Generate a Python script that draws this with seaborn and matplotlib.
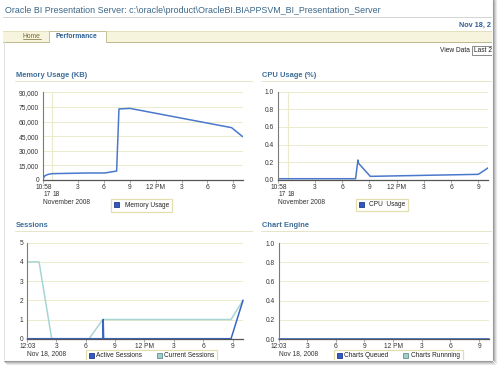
import numpy as np
import pandas as pd
import matplotlib
matplotlib.use('Agg')
import matplotlib.pyplot as plt
import seaborn as sns
from matplotlib.patches import Patch, Rectangle

# ---------------- data ----------------
mem_hours = [-1.03, -0.85, -0.46, 0.0, 3.99, 6.11, 7.47, 7.74, 9.01, 20.8, 22.08]
mem_kb = [1700, 4400, 5800, 6500, 7200, 7200, 9200, 72900, 73500, 53700, 44500]

cpu_hours = [-1.03, 7.48, 7.74, 7.81, 9.1, 21.0, 22.1]
cpu_pct = [0.011, 0.011, 0.224, 0.186, 0.038, 0.061, 0.136]

cur_hours = [0.05, 1.25, 2.54, 6.36, 7.76, 20.85, 22.07]
cur_sessions = [4, 4, 0, 0, 1, 1, 2]
act_hours = [0.05, 7.78, 7.80, 7.84, 20.85, 22.07]
act_sessions = [0, 0, 1, 0, 0, 2]

eng_hours = [0.05, 22.04]
charts_queued = [0, 0]
charts_running = [0, 0]

day_ticks = [-1.033, 3, 6, 9, 12, 15, 18, 21]
day_labels = ['10:58', '3', '6', '9', '12 PM', '3', '6', '9']
sess_ticks = [0.05, 3, 6, 9, 12, 15, 18, 21]
sess_labels = ['12:03', '3', '6', '9', '12 PM', '3', '6', '9']

mem_yticks = [0, 15000, 30000, 45000, 60000, 75000, 90000]
mem_ylabels = ['0', '15,000', '30,000', '45,000', '60,000', '75,000', '90,000']
frac_yticks = [0, 0.2, 0.4, 0.6, 0.8, 1.0]
frac_ylabels = ['0.0', '0.2', '0.4', '0.6', '0.8', '1.0']
sess_yticks = [0, 1, 2, 3, 4, 5]
sess_ylabels = ['0', '1', '2', '3', '4', '5']

# ---------------- style ----------------
sns.set_style('white')
plt.rcParams['font.family'] = ['Liberation Sans', 'DejaVu Sans']

W, H = 500, 368
BLUE = '#4a78cc'
BLUE2 = '#3a64c4'
TEAL = '#a6d6d2'
GRID = '#ebebcc'
TITLE = '#3d6d98'
LEG_EDGE = '#e2dfae'

fig = plt.figure(figsize=(5, 3.68), dpi=100)
fig.patch.set_facecolor('white')

# background / page decorations (pixel coordinates)
bg = fig.add_axes([0, 0, 1, 1])
bg.set_xlim(0, W)
bg.set_ylim(H, 0)
bg.axis('off')

bg.text(5, 10.5, r'Oracle BI Presentation Server: c:\oracle\product\OracleBI.BIAPPSVM_BI_Presentation_Server',
        fontsize=6.4, color='#3a6688', va='center', ha='left')
bg.plot([3, 492], [16.5, 16.5], color='#d4d4d4', lw=0.7)
bg.text(490.5, 25.5, 'Nov 18, 2', fontsize=5.2, color='#2f5f94', fontweight='bold', va='center', ha='right')

# tab bar
bg.add_patch(Rectangle((3, 31), 489, 10.5, facecolor='#f6f4dc', edgecolor='none'))
bg.plot([3, 492], [31, 31], color='#e0ddb8', lw=0.6)
bg.plot([3, 49], [41.5, 41.5], color='#bdb78c', lw=0.7)
bg.plot([106, 492], [41.5, 41.5], color='#bdb78c', lw=0.7)
bg.add_patch(Rectangle((49, 31), 57, 11, facecolor='white', edgecolor='none'))
bg.plot([49, 49, 106, 106], [41.5, 31, 31, 41.5], color='#c8c29a', lw=0.7)
bg.text(22.5, 36, 'Home', fontsize=4.9, color='#7a6c3a', va='center', ha='left')
bg.plot([22.5, 40.5], [39, 39], color='#7a6c3a', lw=0.5)
bg.text(55, 36, 'Performance', fontsize=4.9, color='#2f5f94', fontweight='bold', va='center', ha='left')

bg.text(439.5, 50, 'View Data', fontsize=4.8, color='#222222', va='center', ha='left')
bg.add_patch(Rectangle((472, 45.5), 22, 9, facecolor='white', edgecolor='#777777', lw=0.6))
bg.text(474, 50, 'Last 2', fontsize=4.8, color='#222222', va='center', ha='left')

# chart titles and underlines
for (x, y, txt) in [(16, 75.5, 'Memory Usage (KB)'), (262, 75.5, 'CPU Usage (%)'),
                    (16, 225.5, 'Sessions'), (262, 225.5, 'Chart Engine')]:
    bg.text(x, y, txt, fontsize=5.4, color=TITLE, fontweight='bold', va='center', ha='left')
bg.plot([15, 252], [80.5, 80.5], color='#e6e4c8', lw=0.7)
bg.plot([261, 491], [80.5, 80.5], color='#e6e4c8', lw=0.7)
bg.plot([15, 252], [230.5, 230.5], color='#e6e4c8', lw=0.7)
bg.plot([261, 491], [230.5, 230.5], color='#e6e4c8', lw=0.7)

# left page edge
bg.plot([3.5, 3.5], [42, 360], color='#dddddd', lw=0.6)


def make_axes(l, t, r, b):
    ax = fig.add_axes([l / W, 1 - b / H, (r - l) / W, (b - t) / H])
    ax.set_facecolor('none')
    return ax


def style_axes(ax, xlim, ylim, xt, xl, yt, yl):
    ax.set_xlim(xlim)
    ax.set_ylim(ylim)
    ax.set_xticks(xt)
    ax.set_xticklabels(xl)
    ax.set_yticks(yt)
    ax.set_yticklabels(yl)
    ax.set_xlabel('')
    ax.set_ylabel('')
    for s in ['top', 'right']:
        ax.spines[s].set_visible(False)
    ax.spines['left'].set_color('#7a7a7a')
    ax.spines['left'].set_linewidth(0.8)
    ax.spines['bottom'].set_color('#555555')
    ax.spines['bottom'].set_linewidth(0.9)
    ax.grid(axis='y', color=GRID, lw=0.7)
    ax.grid(axis='x', visible=False)
    ax.set_axisbelow(True)
    ax.tick_params(axis='x', bottom=True, length=2, width=0.5, color='#888888',
                   pad=1, labelsize=4.8, labelcolor='#333333')
    ax.tick_params(axis='y', left=False, length=0, pad=3, labelsize=4.8, labelcolor='#333333')


def add_legend(ax, labels, colors, edges, x, y, tpad, cspace):
    handles = [Patch(facecolor=c, edgecolor=e, lw=0.6) for c, e in zip(colors, edges)]
    leg = ax.legend(handles, labels, loc='upper left', bbox_to_anchor=(x / W, 1 - y / H),
                    bbox_transform=fig.transFigure, ncol=len(labels), frameon=True,
                    fancybox=False, edgecolor=LEG_EDGE, facecolor='white', framealpha=1,
                    fontsize=4.7, handlelength=0.8, handleheight=0.8, handletextpad=tpad,
                    columnspacing=cspace, borderpad=0.45, borderaxespad=0)
    leg.get_frame().set_linewidth(0.9)
    for t in leg.get_texts():
        t.set_color('#222222')


def under(ax, x, dy, txt):
    ax.annotate(txt, xy=(x, 0), xycoords=('data', 'axes fraction'), xytext=(0, dy),
                textcoords='offset pixels', ha='left', va='center', fontsize=4.8, color='#333333')


# ---------------- Memory ----------------
ax1 = make_axes(43.3, 92.3, 242.8, 180)
mem_df = pd.DataFrame({'hour': mem_hours, 'kb': mem_kb})
sns.lineplot(data=mem_df, x='hour', y='kb', ax=ax1, color=BLUE, lw=1.1,
             estimator=None, sort=False, legend=False)
ax1.axvline(0, color=GRID, lw=0.8, zorder=0)
style_axes(ax1, (-1.033, 22.1), (0, 90000), day_ticks, day_labels, mem_yticks, mem_ylabels)
under(ax1, -1.033, -15, '17')
under(ax1, 0, -15, '18')
under(ax1, -1.033, -23, 'November 2008')
add_legend(ax1, ['Memory Usage'], ['#3458c0'], ['#1e3a8a'], 111, 199, 0.9, 1.0)

# ---------------- CPU ----------------
ax2 = make_axes(278.3, 91.7, 488.3, 179.7)
cpu_df = pd.DataFrame({'hour': cpu_hours, 'pct': cpu_pct})
sns.lineplot(data=cpu_df, x='hour', y='pct', ax=ax2, color=BLUE, lw=1.1,
             estimator=None, sort=False, legend=False)
ax2.axvline(0, color=GRID, lw=0.8, zorder=0)
style_axes(ax2, (-1.033, 22.1), (0, 1), day_ticks, day_labels, frac_yticks, frac_ylabels)
under(ax2, -1.033, -15, '17')
under(ax2, 0, -15, '18')
under(ax2, -1.033, -23, 'November 2008')
add_legend(ax2, ['CPU  Usage'], ['#3458c0'], ['#1e3a8a'], 356, 198.5, 0.7, 1.0)

# ---------------- Sessions ----------------
ax3 = make_axes(27.3, 242.7, 243.3, 338.7)
sess_df = pd.concat([
    pd.DataFrame({'hour': cur_hours, 'count': cur_sessions, 'series': 'Current Sessions'}),
    pd.DataFrame({'hour': act_hours, 'count': act_sessions, 'series': 'Active Sessions'}),
], ignore_index=True)
sns.lineplot(data=sess_df, x='hour', y='count', hue='series',
             hue_order=['Current Sessions', 'Active Sessions'],
             palette={'Current Sessions': TEAL, 'Active Sessions': BLUE2},
             ax=ax3, lw=1.1, estimator=None, sort=False, legend=False)
for ln in ax3.get_lines():
    ln.set_clip_on(False)
style_axes(ax3, (0.05, 22.1), (0, 5), sess_ticks, sess_labels, sess_yticks, sess_ylabels)
under(ax3, 0.05, -14.5, 'Nov 18, 2008')
add_legend(ax3, ['Active Sessions', 'Current Sessions'], ['#3458c0', '#9fd0cc'],
           ['#1e3a8a', '#5f8f8c'], 86, 349.5, 0.35, 2.2)

# ---------------- Chart Engine ----------------
ax4 = make_axes(279, 243, 489, 339)
eng_df = pd.concat([
    pd.DataFrame({'hour': eng_hours, 'count': charts_running, 'series': 'Charts Runnning'}),
    pd.DataFrame({'hour': eng_hours, 'count': charts_queued, 'series': 'Charts Queued'}),
], ignore_index=True)
sns.lineplot(data=eng_df, x='hour', y='count', hue='series',
             hue_order=['Charts Runnning', 'Charts Queued'],
             palette={'Charts Runnning': TEAL, 'Charts Queued': BLUE2},
             ax=ax4, lw=1.1, estimator=None, sort=False, legend=False)
for ln in ax4.get_lines():
    ln.set_clip_on(False)
style_axes(ax4, (0.05, 22.04), (0, 1), sess_ticks, sess_labels, frac_yticks, frac_ylabels)
under(ax4, 0.05, -14.5, 'Nov 18, 2008')
add_legend(ax4, ['Charts Queued', 'Charts Runnning'], ['#3458c0', '#9fd0cc'],
           ['#1e3a8a', '#5f8f8c'], 334, 349.5, 0.35, 2.2)

# ---------------- page shadow (right and bottom edges) ----------------
top = fig.add_axes([0, 0, 1, 1])
top.set_xlim(0, W)
top.set_ylim(H, 0)
top.axis('off')
top.patch.set_alpha(0)
top.add_patch(Rectangle((492, 0), 8, H, facecolor='white', edgecolor='none'))
top.add_patch(Rectangle((0, 360), W, 8, facecolor='white', edgecolor='none'))
for i, c in enumerate(['#9a9a9a', '#b8b8b8', '#d2d2d2', '#e8e8e8']):
    top.plot([492 + i + 0.5, 492 + i + 0.5], [0, 360 + i], color=c, lw=0.8)
    top.plot([4 + i, 492 + i], [360 + i + 0.5, 360 + i + 0.5], color=c, lw=0.8)

fig.savefig('out.png', dpi=100, facecolor='white')
